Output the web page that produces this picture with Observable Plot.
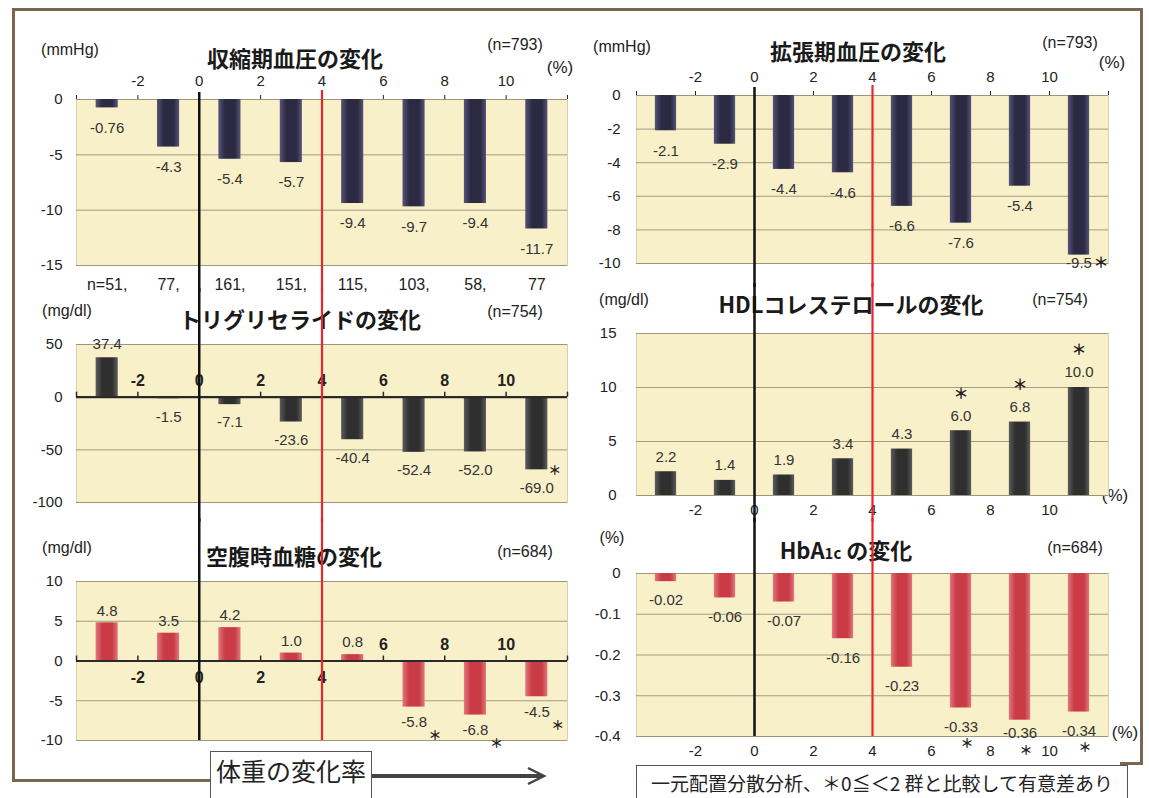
<!DOCTYPE html>
<html><head><meta charset="utf-8">
<script src="https://cdn.jsdelivr.net/npm/d3@7"></script>
<script src="https://cdn.jsdelivr.net/npm/@observablehq/plot@0.6"></script>
<style>
body{margin:0;background:#fff;}
#page{position:relative;width:1149px;height:798px;overflow:hidden;font-family:"Liberation Sans",Arial,sans-serif;color:#222;}
.lbl{position:absolute;transform:translate(-50%,-50%);white-space:nowrap;font-size:16px;}
.ttl{position:absolute;transform:translate(-50%,-50%);white-space:nowrap;font-size:22px;font-weight:bold;font-family:"Noto Sans CJK JP",sans-serif;color:#1a1a1a;}
.ln{position:absolute;background:#7a6650;}
.box{position:absolute;background:#fff;border:1.5px solid #555;display:flex;align-items:center;justify-content:center;font-family:"Noto Sans CJK JP",sans-serif;color:#222;white-space:nowrap;}
svg.panel{position:absolute;}
</style></head><body><div id="page"></div>
<script>
// ---- data ----
const binCenters = [-3, -1, 1, 3, 5, 7, 9, 11];          // weight-change bins (%)
const xTickValues = [-4, -2, 0, 2, 4, 6, 8, 10, 12];
const sbpValues = [-0.76, -4.3, -5.4, -5.7, -9.4, -9.7, -9.4, -11.7];
const sbpN = [51, 77, 161, 151, 115, 103, 58, 77];
const dbpValues = [-2.1, -2.9, -4.4, -4.6, -6.6, -7.6, -5.4, -9.5];
const dbpSig = [0, 0, 0, 0, 0, 0, 0, 1];
const tgValues = [37.4, -1.5, -7.1, -23.6, -40.4, -52.4, -52.0, -69.0];
const tgSig = [0, 0, 0, 0, 0, 0, 0, 1];
const hdlValues = [2.2, 1.4, 1.9, 3.4, 4.3, 6.0, 6.8, 10.0];
const hdlSig = [0, 0, 0, 0, 0, 1, 1, 1];
const fpgValues = [4.8, 3.5, 4.2, 1.0, 0.8, -5.8, -6.8, -4.5];
const fpgSig = [0, 0, 0, 0, 0, 1, 1, 1];
const hbaValues = [-0.02, -0.06, -0.07, -0.16, -0.23, -0.33, -0.36, -0.34];
const hbaSig = [0, 0, 0, 0, 0, 1, 1, 1];
const sbpTicks = [0, -5, -10, -15];
const dbpTicks = [0, -2, -4, -6, -8, -10];
const tgTicks = [50, 0, -50, -100];
const hdlTicks = [0, 5, 10, 15];
const fpgTicks = [10, 5, 0, -5, -10];
const hbaTicks = [0, -0.1, -0.2, -0.3, -0.4];

const page = document.getElementById("page");
const colors = {
  navy: {mid: "#2c2a42", edge: "#55537a"},
  gray: {mid: "#2f2f2f", edge: "#5c5c5c"},
  red: {mid: "#c93c46", edge: "#e2777d"}
};

function panel(cfg) {
  const rows = binCenters.map((x, i) => ({x, v: cfg.values[i], sig: cfg.sig ? cfg.sig[i] : 0, n: cfg.n ? cfg.n[i] : null, i}));
  const [yMin, yMax] = cfg.yDomain;
  const frameH = cfg.height - cfg.mt - cfg.mb;
  const upp = (yMax - yMin) / frameH;
  const gid = "grad" + cfg.id;
  const c = colors[cfg.color];
  const labelY = d => d.v < 0 ? Math.max(d.v, yMin + (cfg.negDy - cfg.clamp) * upp) : d.v;
  const neg = rows.filter(d => d.v < 0), pos = rows.filter(d => d.v >= 0);
  const marks = [
    () => {
      const defs = document.createElementNS("http://www.w3.org/2000/svg", "defs");
      defs.innerHTML = `<linearGradient id="${gid}" x1="0" x2="1" y1="0" y2="0">
        <stop offset="0" stop-color="${c.edge}"/><stop offset="0.3" stop-color="${c.mid}"/>
        <stop offset="0.75" stop-color="${c.mid}"/><stop offset="1" stop-color="${c.edge}"/></linearGradient>`;
      return defs;
    },
    Plot.frame({fill: "#f8f0c8", stroke: "#d9d1ad"}),
    Plot.ruleY(cfg.yTicks, {stroke: "#8a8870", strokeWidth: 0.8}),
    Plot.rectY(rows, {x1: d => d.x - 0.36, x2: d => d.x + 0.36, y1: 0, y2: "v", fill: `url(#${gid})`}),
    Plot.text(neg, {x: "x", y: labelY, text: d => cfg.fmt(d.v), dy: cfg.negDy, fontSize: 15, fill: "#333"}),
    Plot.text(pos, {x: "x", y: "v", text: d => cfg.fmt(d.v), dy: -cfg.posDy, fontSize: 15, fill: "#333"})
  ];
  if (cfg.star) {
    marks.push(Plot.text(rows.filter(d => d.sig), {
      x: "x", y: labelY, text: () => "＊", fontFamily: "Noto Sans CJK JP", fontWeight: "bold", fontSize: cfg.star.size || 15, fill: "#222",
      dx: cfg.star.dx, dy: (rows.find(d => d.sig).v < 0 ? cfg.negDy : -cfg.posDy) + cfg.star.dy
    }));
  }
  if (cfg.midAxis) {
    marks.push(Plot.ruleY([0], {stroke: "#2a2a2a", strokeWidth: 2.2}));
    marks.push(Plot.ruleX(xTickValues, {y1: 0, y2: 5 * upp, stroke: "#2a2a2a", strokeWidth: 1.5}));
    const lab = xTickValues.filter(d => d > -4 && d < 12);
    marks.push(Plot.text(lab, {x: d => d, y: 0, text: d => String(d), fontWeight: "bold", fontSize: 16, fill: "#222",
      filter: d => !(cfg.midAxis === "split" && d <= 4), dy: -16}));
    if (cfg.midAxis === "split") {
      marks.push(Plot.text(lab, {x: d => d, y: 0, text: d => String(d), fontWeight: "bold", fontSize: 16, fill: "#222",
        filter: d => d <= 4, dy: 17}));
    }
  }
  if (cfg.n) {
    marks.push(Plot.text(rows, {x: "x", y: () => yMin, dy: 19, fontSize: 16, fill: "#222",
      text: d => d.i === 0 ? `n=${d.n},` : d.i === rows.length - 1 ? `${d.n}` : `${d.n},`}));
  }
  // the long reference lines at 0 % (black) and 4 % (red)
  const topVal = a => a != null ? yMax + a * upp : yMax + (cfg.mt + 2) * upp;
  const botVal = cfg.lineToFrame ? yMin : yMin - (cfg.mb + 2) * upp;
  marks.push(Plot.ruleX([0], {y1: topVal(cfg.blackAbove), y2: botVal, stroke: "#111", strokeWidth: 2.5}));
  marks.push(Plot.ruleX([4], {y1: topVal(cfg.redAbove), y2: botVal, stroke: "#e8262e", strokeWidth: 2.2}));

  const svg = Plot.plot({
    width: cfg.width, height: cfg.height,
    marginLeft: cfg.ml, marginRight: cfg.mr, marginTop: cfg.mt, marginBottom: cfg.mb,
    style: {fontFamily: "Liberation Sans, Arial, sans-serif", fontSize: "15px", color: "#222", background: "transparent", overflow: "visible"},
    x: {domain: [-4, 12], ticks: xTickValues, axis: cfg.xAxis || null, tickSize: cfg.xTickSize, tickPadding: cfg.xTickPad,
        tickFormat: d => (d === -4 || d === 12) ? "" : String(d), label: null},
    y: {domain: cfg.yDomain, ticks: cfg.yTicks, tickSize: 0, tickPadding: cfg.yPad, tickFormat: d => String(d), label: null},
    marks
  });
  svg.classList.add("panel");
  svg.style.left = cfg.left + "px";
  svg.style.top = cfg.top + "px";
  page.appendChild(svg);
}

function label(text, x, y, cls, extra) {
  const d = document.createElement("div");
  d.className = cls;
  d.innerHTML = text;
  d.style.left = x + "px"; d.style.top = y + "px";
  if (extra) Object.assign(d.style, extra);
  page.appendChild(d);
}
function line(x, y, w, h) {
  const d = document.createElement("div");
  d.className = "ln";
  Object.assign(d.style, {left: x + "px", top: y + "px", width: w + "px", height: h + "px"});
  page.appendChild(d);
}

// outer frame
line(12, 8, 1131, 2.5); line(12, 8, 2.5, 773); line(12, 779, 200, 2.5); line(1140, 8, 2.5, 756); line(1120, 762, 22.5, 2.5);

// headings (behind the charts)
label("(mmHg)", 70, 50, "lbl"); label("収縮期血圧の変化", 295, 57, "ttl"); label("(n=793)", 515, 45, "lbl"); label("(%)", 560, 68, "lbl", {fontSize: "17px"});
label("(mmHg)", 622, 47, "lbl"); label("拡張期血圧の変化", 858, 50, "ttl"); label("(n=793)", 1070, 43, "lbl"); label("(%)", 1112, 63, "lbl", {fontSize: "17px"});
label("(mg/dl)", 67, 311, "lbl"); label("トリグリセライドの変化", 300, 318, "ttl"); label("(n=754)", 515, 312, "lbl"); label("(%)", 555, 358, "lbl", {fontWeight: "bold", fontSize: "16px"});
label("(mg/dl)", 624, 300, "lbl"); label("HDLコレステロールの変化", 851, 303, "ttl"); label("(n=754)", 1060, 300, "lbl"); label("(%)", 1115, 496, "lbl", {fontSize: "17px"});
label("(mg/dl)", 67, 548, "lbl"); label("空腹時血糖の変化", 294, 555, "ttl"); label("(n=684)", 525, 552, "lbl"); label("(%)", 552, 617, "lbl", {fontWeight: "bold", fontSize: "16px"});
label("(%)", 612, 538, "lbl"); label('HbA<span style="font-size:15px">1c</span> の変化', 846, 549, "ttl"); label("(n=684)", 1075, 548, "lbl"); label("(%)", 1125, 733, "lbl", {fontSize: "17px"});

// panels
const fmt1 = v => v.toFixed(1);
panel({id: "A", left: 0, top: 30, width: 580, height: 260, mt: 69, mb: 25, ml: 76, mr: 13, values: sbpValues, n: sbpN,
  fmt: v => v.toFixed(Math.abs(v) < 1 ? 2 : 1), yDomain: [-15, 0], yTicks: sbpTicks, yPad: 14, xAxis: "top", xTickSize: 5, xTickPad: 9,
  negDy: 20, posDy: 14, clamp: 100, color: "navy", blackAbove: 7, redAbove: 9});
panel({id: "B", left: 580, top: 30, width: 569, height: 255, mt: 65, mb: 22, ml: 56, mr: 41, values: dbpValues, sig: dbpSig,
  fmt: fmt1, yDomain: [-10, 0], yTicks: dbpTicks, yPad: 16, xAxis: "top", xTickSize: 5, xTickPad: 9,
  negDy: 20, posDy: 14, clamp: 0, color: "navy", star: {dx: 22, dy: 0}, blackAbove: 8, redAbove: 10});
panel({id: "C", left: 0, top: 290, width: 580, height: 230, mt: 54, mb: 18, ml: 76, mr: 13, values: tgValues, sig: tgSig,
  fmt: fmt1, yDomain: [-100, 50], yTicks: tgTicks, yPad: 14, midAxis: "above",
  negDy: 18, posDy: 14, clamp: 100, color: "gray", star: {dx: 18, dy: -17, size: 13}});
panel({id: "D", left: 580, top: 285, width: 569, height: 235, mt: 48, mb: 25, ml: 56, mr: 41, values: hdlValues, sig: hdlSig,
  fmt: fmt1, yDomain: [0, 15], yTicks: hdlTicks, yPad: 20, xAxis: "bottom", xTickSize: 0, xTickPad: 9,
  negDy: 18, posDy: 15, clamp: 100, color: "gray", star: {dx: 0, dy: -22}});
panel({id: "E", left: 0, top: 520, width: 580, height: 278, mt: 61, mb: 58, ml: 76, mr: 13, values: fpgValues, sig: fpgSig,
  fmt: fmt1, yDomain: [-10, 10], yTicks: fpgTicks, yPad: 14, midAxis: "split",
  negDy: 15, posDy: 12, clamp: 100, color: "red", star: {dx: 21, dy: 14, size: 13}, lineToFrame: true});
panel({id: "F", left: 580, top: 520, width: 569, height: 278, mt: 53, mb: 62, ml: 56, mr: 41, values: hbaValues, sig: hbaSig,
  fmt: v => v.toFixed(2), yDomain: [-0.4, 0], yTicks: hbaTicks, yPad: 16, xAxis: "bottom", xTickSize: 0, xTickPad: 9,
  negDy: 19, posDy: 14, clamp: -3, color: "red", star: {dx: 6, dy: 17, size: 13}, lineToFrame: true});

// bottom annotations
label("体重の変化率", 291, 776, "box", {left: "210px", top: "751px", width: "160px", height: "55px", transform: "none", fontSize: "25px", alignItems: "flex-start", paddingTop: "0"});
const arrow = document.createElementNS("http://www.w3.org/2000/svg", "svg");
arrow.setAttribute("width", "200"); arrow.setAttribute("height", "30");
Object.assign(arrow.style, {position: "absolute", left: "370px", top: "761px"});
arrow.innerHTML = '<line x1="2" y1="15" x2="172" y2="15" stroke="#444" stroke-width="4"/><polyline points="158,7 174,15 158,23" fill="none" stroke="#444" stroke-width="2.5"/>';
page.appendChild(arrow);
label("一元配置分散分析、＊0≦＜2 群と比較して有意差あり", 0, 0, "box", {left: "636px", top: "765px", width: "490px", height: "45px", transform: "none", fontSize: "19px", alignItems: "flex-start", paddingTop: "3px"});
</script></body></html>
